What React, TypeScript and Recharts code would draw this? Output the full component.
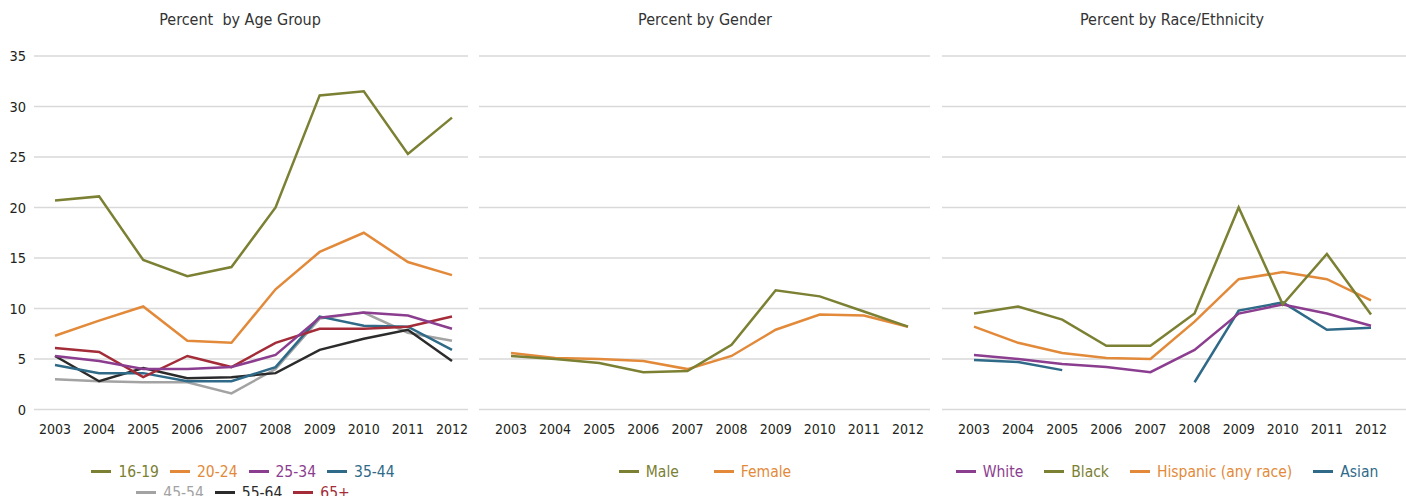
import { LineChart, Line, XAxis, YAxis, CartesianGrid } from 'recharts';

const years = ['2003', '2004', '2005', '2006', '2007', '2008', '2009', '2010', '2011', '2012'];
const yTicks = [0, 5, 10, 15, 20, 25, 30, 35];

// Percent by age group
const age1619 = [20.7, 21.1, 14.8, 13.2, 14.1, 20.0, 31.1, 31.5, 25.3, 28.9];
const age2024 = [7.3, 8.8, 10.2, 6.8, 6.6, 11.9, 15.6, 17.5, 14.6, 13.3];
const age2534 = [5.3, 4.8, 4.0, 4.0, 4.2, 5.4, 9.1, 9.6, 9.3, 8.0];
const age3544 = [4.4, 3.6, 3.6, 2.8, 2.8, 4.2, 9.2, 8.3, 8.2, 5.9];
const age4554 = [3.0, 2.8, 2.7, 2.7, 1.6, 4.0, 9.0, 9.6, 7.6, 6.8];
const age5564 = [5.3, 2.8, 4.1, 3.1, 3.2, 3.6, 5.9, 7.0, 7.9, 4.8];
const age65 = [6.1, 5.7, 3.2, 5.3, 4.2, 6.6, 8.0, 8.0, 8.2, 9.2];

// Percent by gender
const male = [5.3, 5.0, 4.6, 3.7, 3.8, 6.4, 11.8, 11.2, 9.7, 8.2];
const female = [5.6, 5.1, 5.0, 4.8, 4.0, 5.3, 7.9, 9.4, 9.3, 8.2];

// Percent by race/ethnicity
const white = [5.4, 5.0, 4.5, 4.2, 3.7, 5.9, 9.5, 10.4, 9.5, 8.3];
const black = [9.5, 10.2, 8.9, 6.3, 6.3, 9.5, 20.0, 10.4, 15.4, 9.4];
const hispanic = [8.2, 6.6, 5.6, 5.1, 5.0, 8.7, 12.9, 13.6, 12.9, 10.8];
const asian = [4.9, 4.7, 3.9, null, null, 2.7, 9.8, 10.6, 7.9, 8.1];

const OLIVE = '#7b8033';
const ORANGE = '#e28a3a';
const PURPLE = '#8b3d8f';
const TEAL = '#2f6a88';
const GRAY = '#a3a3a3';
const DARK = '#2b2b2b';
const RED = '#a32c38';

const FONT = '"Liberation Sans Narrow", "DejaVu Sans Condensed", "Liberation Sans", sans-serif';

type Series = { key: string; name: string; color: string; values: (number | null)[] };

const ageSeries: Series[] = [
  { key: 'a1619', name: '16-19', color: OLIVE, values: age1619 },
  { key: 'a2024', name: '20-24', color: ORANGE, values: age2024 },
  { key: 'a2534', name: '25-34', color: PURPLE, values: age2534 },
  { key: 'a3544', name: '35-44', color: TEAL, values: age3544 },
  { key: 'a4554', name: '45-54', color: GRAY, values: age4554 },
  { key: 'a5564', name: '55-64', color: DARK, values: age5564 },
  { key: 'a65', name: '65+', color: RED, values: age65 },
];
const genderSeries: Series[] = [
  { key: 'male', name: 'Male', color: OLIVE, values: male },
  { key: 'female', name: 'Female', color: ORANGE, values: female },
];
const raceSeries: Series[] = [
  { key: 'white', name: 'White', color: PURPLE, values: white },
  { key: 'black', name: 'Black', color: OLIVE, values: black },
  { key: 'hispanic', name: 'Hispanic (any race)', color: ORANGE, values: hispanic },
  { key: 'asian', name: 'Asian', color: TEAL, values: asian },
];

function toRows(series: Series[]) {
  return years.map((year, i) => {
    const row: Record<string, string | number | null> = { year };
    series.forEach((s) => { row[s.key] = s.values[i]; });
    return row;
  });
}

// draw order so the lines stack like the original
const ageDrawOrder = ['a4554', 'a5564', 'a3544', 'a65', 'a2534', 'a2024', 'a1619'];

interface PanelProps {
  series: Series[];
  order?: string[];
  left: number;
  width: number;
  rightGap?: number;
  showY?: boolean;
  padL: number;
  padR: number;
}

function Panel({ series, order, left, width, rightGap = 0, showY, padL, padR }: PanelProps) {
  const data = toRows(series);
  const drawn = order ? order.map((k) => series.find((s) => s.key === k)!) : series;
  return (
    <div style={{ position: 'absolute', left, top: 0 }}>
      <LineChart width={width + rightGap} height={452} data={data} margin={{ top: 56, right: rightGap, left: 0, bottom: 0 }}>
        <CartesianGrid vertical={false} stroke="#d9d9d9" strokeWidth={1.5} />
        <XAxis
          dataKey="year"
          axisLine={false}
          tickLine={false}
          tickMargin={9}
          height={42.5}
          interval={0}
          padding={{ left: padL, right: padR }}
          tick={{ fontSize: 14, fill: '#231f20', fontFamily: FONT }}
        />
        <YAxis
          hide={!showY}
          domain={[0, 35]}
          ticks={yTicks}
          width={34}
          axisLine={false}
          tickLine={false}
          tick={{ fontSize: 14.5, fill: '#231f20', fontFamily: FONT }}
        />
        {drawn.map((s) => (
          <Line
            key={s.key}
            dataKey={s.key}
            name={s.name}
            stroke={s.color}
            strokeWidth={2.5}
            dot={false}
            activeDot={false}
            type="linear"
            isAnimationActive={false}
          />
        ))}
      </LineChart>
    </div>
  );
}

function Title({ text, center }: { text: string; center: number }) {
  return (
    <div
      style={{
        position: 'absolute', left: center - 200, width: 400, top: 8, textAlign: 'center',
        fontSize: 16, color: '#333', whiteSpace: 'pre', lineHeight: '24px',
      }}
    >
      {text}
    </div>
  );
}

function LegendBlock({ rows, center, gap }: { rows: Series[][]; center: number; gap: number }) {
  return (
    <div style={{ position: 'absolute', left: center - 300, width: 600, top: 461 }}>
      {rows.map((row, ri) => (
        <div key={ri} style={{ display: 'flex', justifyContent: 'center', gap, height: 21, alignItems: 'center' }}>
          {row.map((s) => (
            <div key={s.key} style={{ display: 'flex', alignItems: 'center', color: s.color, fontSize: 15.5 }}>
              <span style={{ display: 'inline-block', width: 20, height: 2.5, background: s.color, marginRight: 7 }} />
              <span>{s.name}</span>
            </div>
          ))}
        </div>
      ))}
    </div>
  );
}

export default function App() {
  return (
    <div
      style={{
        position: 'absolute', left: 0, top: 0, width: 1406, height: 496, overflow: 'hidden',
        background: '#fff', fontFamily: FONT,
      }}
    >
      <Title text={'Percent  by Age Group'} center={240} />
      <Title text="Percent by Gender" center={705} />
      <Title text="Percent by Race/Ethnicity" center={1172} />

      <Panel series={ageSeries} order={ageDrawOrder} left={0} width={468} rightGap={10} showY padL={21} padR={16} />
      <Panel series={genderSeries} order={['female', 'male']} left={479} width={451} padL={32} padR={22} />
      <Panel series={raceSeries} order={['asian', 'white', 'hispanic', 'black']} left={942} width={464} padL={32} padR={35} />

      <LegendBlock rows={[ageSeries.slice(0, 4), ageSeries.slice(4)]} center={243} gap={11} />
      <LegendBlock rows={[genderSeries]} center={705} gap={35} />
      <LegendBlock rows={[raceSeries]} center={1167} gap={21} />
    </div>
  );
}
